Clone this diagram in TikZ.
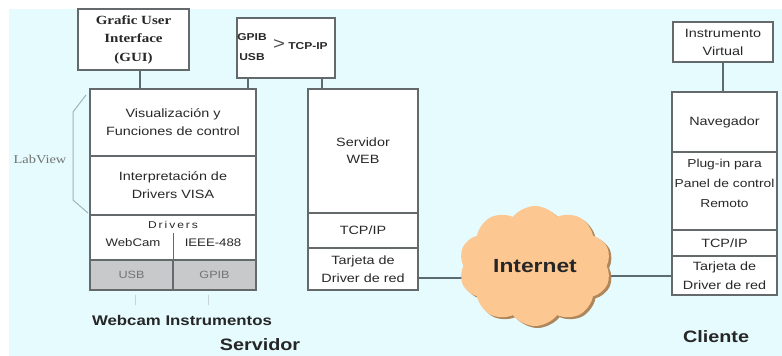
\documentclass[tikz,border=0pt]{standalone}
\usepackage{fontspec}
\setmainfont[FakeStretch=1.2]{Liberation Sans}
\newfontfamily\seriffam[FakeStretch=1.2]{Liberation Serif}
\usetikzlibrary{shapes.symbols}

\definecolor{bgcyan}{RGB}{229,251,254}
\definecolor{boxline}{RGB}{100,105,107}
\definecolor{wire}{RGB}{92,108,110}
\definecolor{txt}{RGB}{40,40,40}
\definecolor{cellgray}{RGB}{200,201,202}
\definecolor{celltxt}{RGB}{115,115,115}
\definecolor{cloudfill}{RGB}{253,199,146}
\definecolor{cloudshade}{RGB}{175,135,90}
\definecolor{brace}{RGB}{160,180,185}

\pgfdeclarelayer{bg}
\pgfdeclarelayer{wires}
\pgfsetlayers{bg,wires,main}

\tikzset{
  cell/.style={draw=boxline, line width=1.4pt, fill=white, inner sep=0pt,
    outer sep=0pt, anchor=north west, align=center, text=txt,
    font=\fontsize{12}{18}\selectfont},
  graycell/.style={cell, fill=cellgray, text=celltxt,
    font=\fontsize{10.5}{12}\selectfont},
  plain/.style={inner sep=0pt, text=txt, align=center,
    font=\fontsize{12}{18}\selectfont},
  small/.style={plain, font=\fontsize{11}{13}\selectfont},
  tiny/.style={plain, font=\bfseries\fontsize{10}{20}\selectfont},
  title/.style={inner sep=0pt, text=black!85, font=\bfseries\fontsize{14}{16}\selectfont},
  wireline/.style={draw=wire, line width=2pt},
  netcloud/.style={cloud, cloud puffs=10, cloud puff arc=105, aspect=1.25,
    minimum width=152, minimum height=120, inner sep=0pt},
}

\begin{document}
\begin{tikzpicture}[x=1pt,y=-1pt]
\useasboundingbox (0,0) rectangle (782,356);
\begin{pgfonlayer}{bg}
  \fill[white] (0,0) rectangle (782,356);
  \fill[bgcyan] (9,9) rectangle (782,356);
\end{pgfonlayer}

% ---------------- server: LabView stack ----------------
\node[cell, minimum width=111, minimum height=61,
      font=\seriffam\bfseries\fontsize{12.5}{18.5}\selectfont] (gui) at (78,9)
      {Grafic User\\Interface\\(GUI)};

\node[cell, minimum width=166, minimum height=67] (vis) at (90,89)
      {Visualización y\\Funciones de control};
\node[cell, minimum width=166, minimum height=59] (interp) at (90,156)
      {Interpretación de\\Drivers VISA};
\node[cell, minimum width=166, minimum height=45] (drv) at (90,215) {};
\node[graycell, minimum width=83, minimum height=30] (usb) at (90,260) {USB};
\node[graycell, minimum width=83, minimum height=30] (gpib) at (173,260) {GPIB};

\node[small, font=\addfontfeature{LetterSpace=20}\fontsize{10}{12}\selectfont]
      (drvlabel) at (173,225) {Drivers};
\node[small] (webcam) at (133,243) {WebCam};
\node[small] (ieee) at (213,243) {IEEE-488};
\draw[boxline, line width=1pt] (173,233) -- (usb.south east);

% LabView bracket and label
\draw[brace, line width=1pt] (86,95) -- (73,112) -- (73,200) -- (88,213);
\node[inner sep=0pt, text=black!55, font=\seriffam\fontsize{12}{14}\selectfont]
      (labview) at (40,159) {LabView};

% device ticks under the bus cells
\draw[brace!60, line width=0.8pt] (135,295) -- (135,305);
\draw[brace!60, line width=0.8pt] (208,295) -- (208,305);

% ---------------- bus bridge box ----------------
\node[cell, minimum width=98, minimum height=60] (bridge) at (237,18) {};
\node[tiny] (gpibtxt) at (252,37) {GPIB};
\node[tiny] (usbtxt) at (252,57) {USB};
\node[plain, font=\fontsize{17}{18}\selectfont, text=black!70] (gt) at (279,45) {>};
\node[tiny] (tcptxt) at (308,46) {TCP-IP};

% ---------------- web server stack ----------------
\node[cell, minimum width=110, minimum height=124, font=\fontsize{12}{17}\selectfont]
      (web) at (308,89) {Servidor\\WEB};
\node[cell, minimum width=110, minimum height=35] (webtcp) at (308,213) {TCP/IP};
\node[cell, minimum width=110, minimum height=42] (webnic) at (308,248)
      {Tarjeta de\\Driver de red};

% ---------------- client stack ----------------
\node[cell, minimum width=100, minimum height=40] (instr) at (673,22)
      {Instrumento\\Virtual};
\node[cell, minimum width=105, minimum height=60] (nav) at (672,92) {Navegador};
\node[cell, minimum width=105, minimum height=78] (plugin) at (672,152) {};
\node[plain, font=\fontsize{11.5}{20}\selectfont] (plugintxt) at (724.5,183)
      {Plug-in para\\Panel de control\\Remoto};
\node[cell, minimum width=105, minimum height=26] (clitcp) at (672,230) {TCP/IP};
\node[cell, minimum width=105, minimum height=39, font=\fontsize{12}{19}\selectfont]
      (clinic) at (672,256) {Tarjeta de\\Driver de red};

% ---------------- Internet cloud ----------------
\node[netcloud, fill=cloudshade] (cloudshadow) at (537.5,268) {};
\node[netcloud, fill=cloudfill, text=black!85,
      font=\bfseries\fontsize{19}{20}\selectfont] (cloud) at (535,266) {Internet};

% ---------------- captions ----------------
\node[title] (camcap) at (182,320) {Webcam Instrumentos};
\node[title, font=\bfseries\fontsize{16.5}{18}\selectfont] (srvcap) at (260,345) {Servidor};
\node[title, font=\bfseries\fontsize{16.5}{18}\selectfont] (clicap) at (716,337) {Cliente};

% ---------------- connectors ----------------
\begin{pgfonlayer}{wires}
  \draw[wireline] ([xshift=6pt]gui.south) -- ([xshift=6pt]gui.south |- vis.north);
  \draw[wireline] ([xshift=11pt]bridge.south west) -- ([xshift=11pt]bridge.south west |- vis.north);
  \draw[wireline] ([xshift=-13pt]bridge.south east) -- ([xshift=-13pt]bridge.south east |- web.north);
  \draw[wireline] (instr.south) -- (instr.south |- nav.north);
  \draw[wireline] ([yshift=-9pt]webnic.east) -- ([yshift=-9pt]webnic.east -| cloud.center);
  \draw[wireline] (clinic.west -| cloud.center) -- (clinic.west);
\end{pgfonlayer}
\end{tikzpicture}
\end{document}
